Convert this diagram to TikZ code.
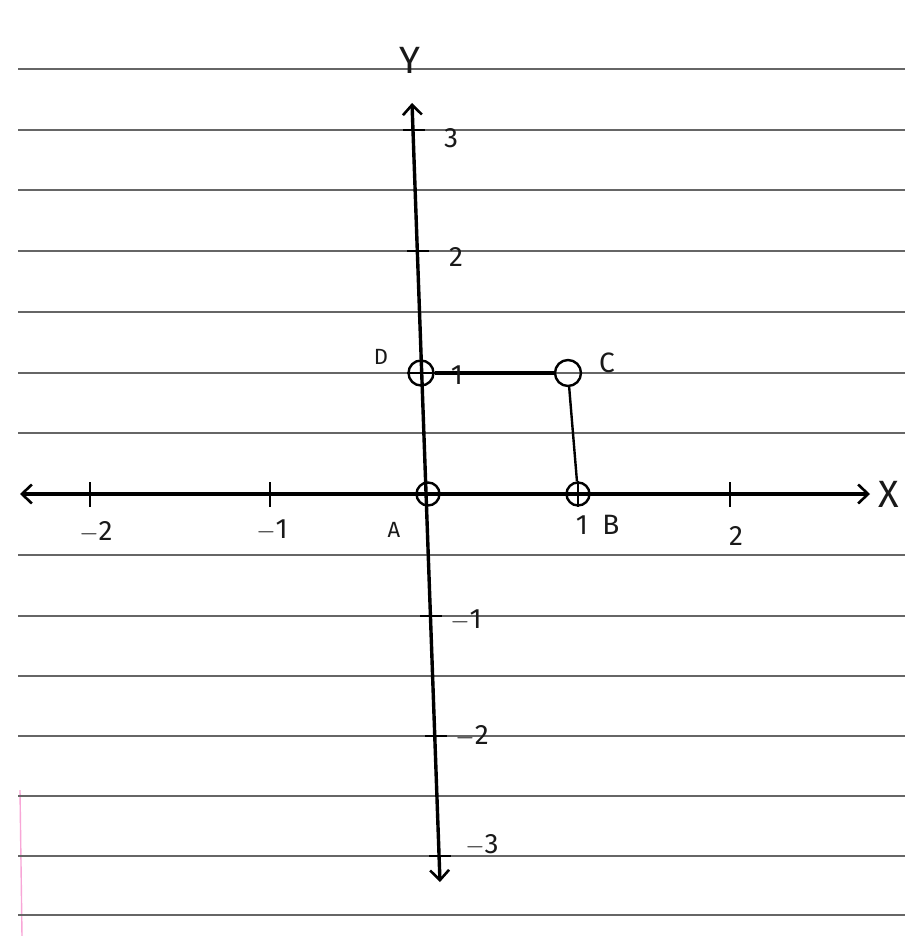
\documentclass[tikz,border=0pt]{standalone}
\usepackage{fontspec}
\setmainfont{Fira Sans}
\usetikzlibrary{arrows.meta}
\begin{document}
\begin{tikzpicture}[x=1pt,y=-1pt,
 rule/.style={line width=2.6pt,draw=black!60},
 axis/.style={line width=3.4pt,draw=black},
 tickmark/.style={line width=2.6pt,draw=black},
 pt/.style={circle,draw=black,line width=2.4pt,minimum size=25pt,inner sep=0pt},
 lbl/.style={font=\fontsize{28}{28}\selectfont,inner sep=0pt,text=black!90},
 big/.style={font=\fontsize{38}{38}\selectfont,inner sep=0pt,text=black!90},
 small/.style={font=\fontsize{22}{22}\selectfont,inner sep=0pt,text=black!90},
 barb/.tip={Straight Barb[length=10pt,width=19pt,line width=2.6pt]}]
\useasboundingbox (0,0) rectangle (905,936);
\fill[white] (0,0) rectangle (905,936);
% margin line
\draw[line width=1.4pt,draw=magenta!35] (20,790) -- (22,936);
% ruled lines
\foreach \y in {69,130,190,251,312,373,433,555,616,676,736,796,856,915}
  \draw[rule] (18,\y) -- (905,\y);
% axes
\coordinate (xl) at (20,494);
\coordinate (xr) at (870,494);
\coordinate (yt) at (412,103);
\coordinate (yb) at (440,882);
\draw[axis,barb-barb] (xl) -- (xr);
\draw[axis,barb-barb] (yb) -- (yt);
% x ticks
\foreach \x in {90,270,730}
  \draw[tickmark] (\x,482) -- (\x,507);
% y ticks
\foreach \y/\x in {130/413,251/417,616/430,736/435,856/439}
  \draw[tickmark] (\x-10,\y) -- (\x+12,\y);
% points
\node[pt] (D) at (421,373) {};
\node[pt,minimum size=26pt] (C) at (568,373) {};
\node[pt,minimum size=23pt] (A) at (428,494) {};
\node[pt,minimum size=23pt] (B) at (578,494) {};
\draw[tickmark] (D.west) -- (D.east);
\draw[tickmark] (B.north) -- (B.south);
% connectors
\draw[line width=3.4pt] (D) -- (C);
\draw[line width=2.4pt] (C) -- (B);
% axis names
\node[big] (ylab) at (410,60) {Y};
\node[big] (xlab) at (889,494) {X};
% y labels
\node[lbl] (y3) at (451,138) {3};
\node[lbl] (y2) at (456,257) {2};
\node[lbl] (y1) at (457,375) {1};
\node[lbl] (ym1) at (466,620) {$-$1};
\node[lbl] (ym2) at (472,736) {$-$2};
\node[lbl] (ym3) at (482,845) {$-$3};
% x labels
\node[lbl] (xm2) at (96,532) {$-$2};
\node[lbl] (xm1) at (272,530) {$-$1};
\node[lbl] (x1) at (582,525) {1};
\node[lbl] (x2) at (736,536) {2};
% point labels
\node[small] (lA) at (394,530) {A};
\node[lbl] (lB) at (611,525) {B};
\node[small] (lD) at (381,357) {D};
\node[lbl] (lC) at (607,363) {C};
\end{tikzpicture}
\end{document}
